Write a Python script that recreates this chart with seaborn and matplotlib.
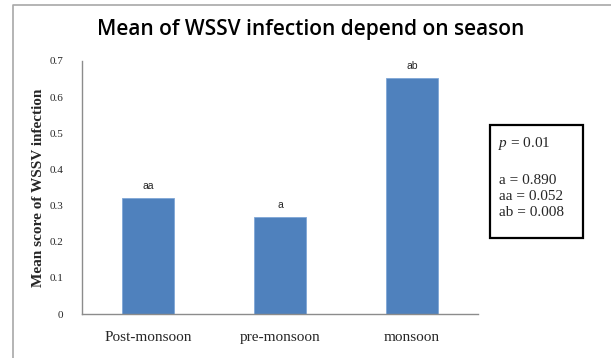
import matplotlib
matplotlib.use("Agg")
import matplotlib.pyplot as plt
from matplotlib.lines import Line2D
from matplotlib.patches import Rectangle
import seaborn as sns
import pandas as pd

seasons = ["Post-monsoon", "pre-monsoon", "monsoon"]
mean_scores = [0.322, 0.269, 0.654]
letters = ["aa", "a", "ab"]
y_ticks = [0, 0.1, 0.2, 0.3, 0.4, 0.5, 0.6, 0.7]
y_tick_labels = ["0", "0.1", "0.2", "0.3", "0.4", "0.5", "0.6", "0.7"]
p_text = "0.01"
group_p = [("a", "0.890"), ("aa", "0.052"), ("ab", "0.008")]

sns.set_style("white")
plt.rcParams["mathtext.fontset"] = "custom"
plt.rcParams["mathtext.it"] = "Liberation Serif:italic"
plt.rcParams["mathtext.rm"] = "Liberation Serif"

W, H = 611, 358
fig = plt.figure(figsize=(W / 100, H / 100), dpi=100)
fig.patch.set_facecolor("white")

# outer chart frame (left and top edges fall inside the canvas)
fig.lines.append(Line2D([12.5 / W, 12.5 / W, 1.0], [0.0, 1 - 4.5 / H, 1 - 4.5 / H],
                        transform=fig.transFigure, color="#a8a8a8", linewidth=1.2))

ax = fig.add_axes([82 / W, 1 - 314 / H, (478 - 82) / W, (314 - 61) / H])

df = pd.DataFrame({"season": seasons, "score": mean_scores})
sns.barplot(data=df, x="season", y="score", color="#4F81BD", saturation=1,
            width=0.39, edgecolor="#7fa6d6", linewidth=0.6, ax=ax)

ax.set_ylim(0, 0.7)
ax.set_xlim(-0.5, 2.5)
ax.set_yticks(y_ticks)
ax.set_yticklabels(y_tick_labels, family="Liberation Serif", fontsize=8)
ax.set_xticks(range(len(seasons)))
ax.set_xticklabels(seasons, family="Liberation Serif", fontsize=11)
ax.tick_params(length=0)
ax.tick_params(axis="y", pad=13.5)
ax.tick_params(axis="x", pad=12)
ax.set_xlabel("")
ax.set_ylabel("Mean score of WSSV infection", family="Liberation Serif",
              fontweight="bold", fontsize=11, labelpad=3)

for side in ("top", "right"):
    ax.spines[side].set_visible(False)
for side in ("left", "bottom"):
    ax.spines[side].set_color("#8c8c8c")
    ax.spines[side].set_linewidth(1.0)

for i, (v, lab) in enumerate(zip(mean_scores, letters)):
    ax.annotate(lab, (i, v), xytext=(0, 5), textcoords="offset points",
                ha="center", va="bottom", family="Liberation Sans", fontsize=7.5)

fig.text(311 / W, 1 - 30 / H, "Mean of WSSV infection depend on season",
         ha="center", va="center", family="Open Sans", fontweight="semibold",
         fontsize=15, color="black")

# significance box
fig.patches.append(Rectangle((490 / W, 1 - 238 / H), 93 / W, 113 / H,
                             transform=fig.transFigure, fill=False,
                             edgecolor="black", linewidth=1.6))
fig.text(498 / W, 1 - 143 / H, r"$p$" + " = " + p_text, ha="left", va="center",
         family="Liberation Serif", fontsize=11)
for k, (g, val) in enumerate(group_p):
    fig.text(499 / W, 1 - (180 + 16 * k) / H, f"{g} = {val}", ha="left",
             va="center", family="Liberation Serif", fontsize=11)

fig.savefig("out.png", dpi=100)
